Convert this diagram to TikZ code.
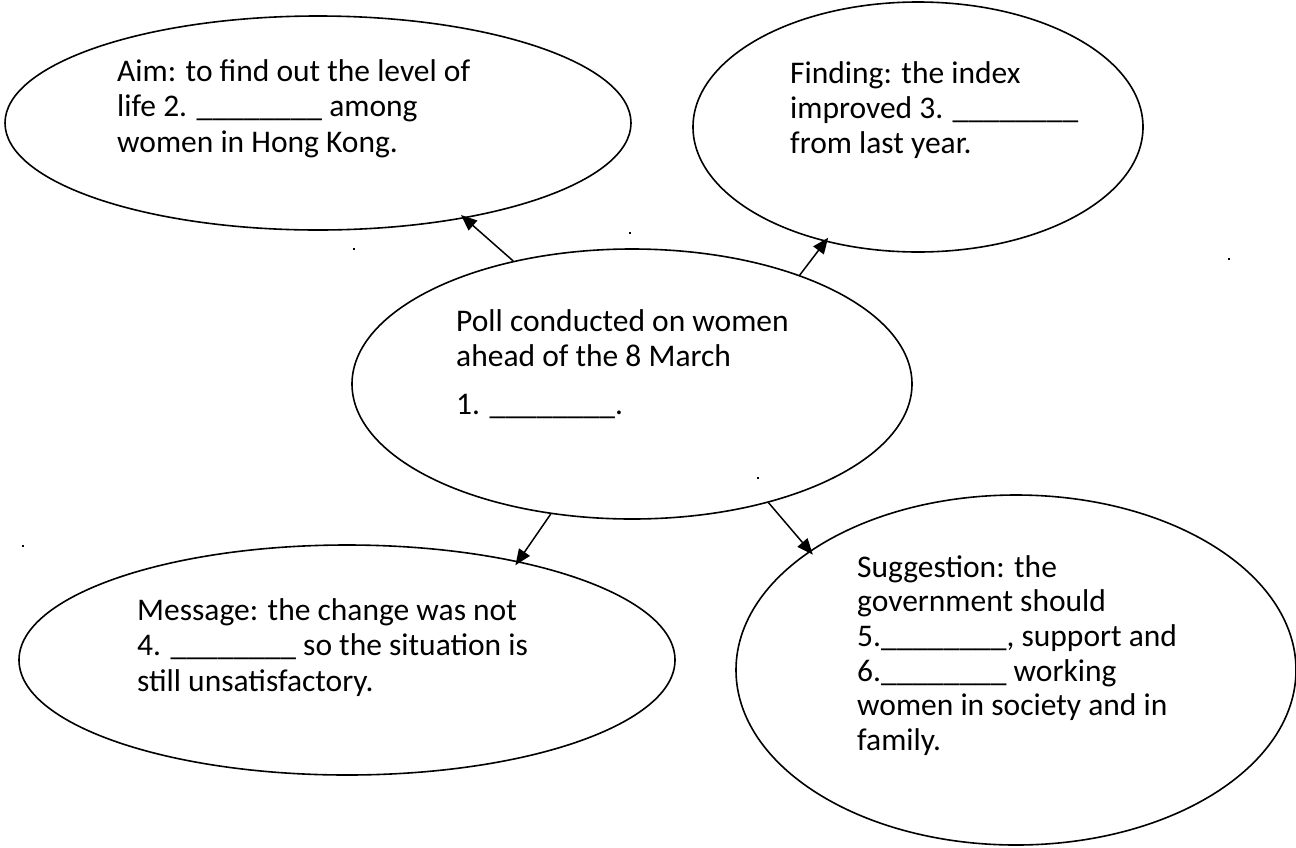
\documentclass[tikz,border=0pt]{standalone}
\usepackage{fontspec}
\setmainfont{Carlito}
\usetikzlibrary{shapes.geometric,arrows.meta}
\begin{document}
\begin{tikzpicture}[x=1pt,y=-1pt,
  bubble/.style={draw,ellipse,inner sep=0pt,line width=1.6pt},
  txt/.style={anchor=base west,inner sep=0pt,font=\fontsize{31.5}{35.5}\selectfont},
  conn/.style={line width=1.5pt,-{Triangle[length=16pt,width=13pt]},shorten >=-5pt},
  speck/.style={fill,inner sep=0pt,minimum size=2.5pt,rectangle}
]
\useasboundingbox (0,0) rectangle (1296,847);
\fill[white] (0,0) rectangle (1296,847);

% bubbles
\node[bubble,minimum width=626pt,minimum height=214pt] (tl) at (318,123) {};
\node[bubble,minimum width=450pt,minimum height=250pt] (tr) at (918,127) {};
\node[bubble,minimum width=560pt,minimum height=270pt] (c)  at (632,384) {};
\node[bubble,minimum width=656pt,minimum height=230pt] (bl) at (347,660) {};
\node[bubble,minimum width=560pt,minimum height=350pt] (br) at (1016,670) {};

% texts
\node[txt] (tla) at (117,81)  {Aim: to find out the level of};
\node[txt] (tlb) at (117,116.5) {life 2. \_\_\_\_\_\_\_\_ among};
\node[txt] (tlc) at (117,152) {women in Hong Kong.};

\node[txt] (tra) at (790,83)  {Finding: the index};
\node[txt] (trb) at (790,118) {improved 3. \_\_\_\_\_\_\_\_};
\node[txt] (trc) at (790,153) {from last year.};

\node[txt] (ca) at (456,331) {Poll conducted on women};
\node[txt] (cb) at (456,366) {ahead of the 8 March};
\node[txt] (cc) at (456,414) {1. \_\_\_\_\_\_\_\_.};

\node[txt] (bla) at (137,620) {Message: the change was not};
\node[txt] (blb) at (137,655.5) {4. \_\_\_\_\_\_\_\_ so the situation is};
\node[txt] (blc) at (137,691) {still unsatisfactory.};

\node[txt] (bra) at (857,577) {Suggestion: the};
\node[txt] (brb) at (857,611.7) {government should};
\node[txt] (brc) at (857,646.4) {5.\_\_\_\_\_\_\_\_, support and};
\node[txt] (brd) at (857,681.1) {6.\_\_\_\_\_\_\_\_ working};
\node[txt] (bre) at (857,715.8) {women in society and in};
\node[txt] (brf) at (857,750.5) {family.};

% connectors
\draw[conn] (c.134.8) -- (tl.327.8);
\draw[conn] (c.33.4)  -- (tr.231.9);
\draw[conn] (c.238.3) -- (bl.30.3);
\draw[conn] (c.319.6) -- (br.150.6);

% stray specks
\node[speck] (s1) at (354,249) {};
\node[speck] (s2) at (630,233) {};
\node[speck] (s3) at (1229,259) {};
\node[speck] (s4) at (23,546) {};
\node[speck] (s5) at (758,478) {};
\end{tikzpicture}
\end{document}
